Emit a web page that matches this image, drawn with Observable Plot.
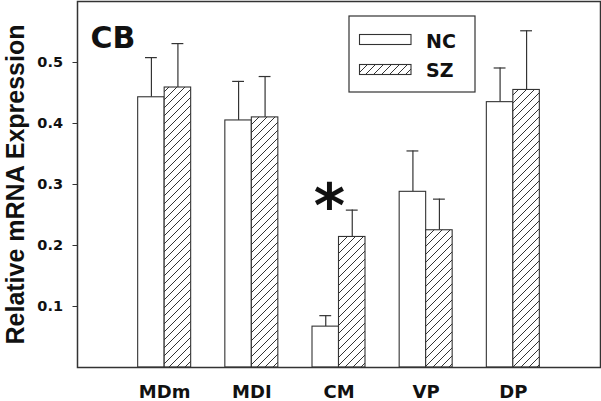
<!DOCTYPE html>
<html><head><meta charset="utf-8">
<script src="https://cdn.jsdelivr.net/npm/d3@7"></script>
<script src="https://cdn.jsdelivr.net/npm/@observablehq/plot@0.6"></script>
<style>body{margin:0;background:#fff;} #chart svg{display:block;}</style>
</head><body><div id="chart"></div>
<script>
const categories = ["MDm", "MDI", "CM", "VP", "DP"];
const groups = ["NC", "SZ"];
const ncMean  = [0.443, 0.405, 0.067, 0.288, 0.435];
const ncUpper = [0.508, 0.469, 0.085, 0.355, 0.491];
const szMean  = [0.459, 0.410, 0.214, 0.225, 0.455];
const szUpper = [0.531, 0.477, 0.258, 0.276, 0.552];
const yTicks = [0.1, 0.2, 0.3, 0.4, 0.5];
const panelLabel = "CB";
const yLabel = "Relative mRNA Expression";
const significant = ["CM"];

const barW = 0.304;   // bar width in category units
const capHalf = 0.068;
const rows = [];
categories.forEach((c, i) => {
  rows.push({cat: c, group: "NC", pos: i + 1, x1: i + 1 - barW, x2: i + 1, mean: ncMean[i], upper: ncUpper[i]});
  rows.push({cat: c, group: "SZ", pos: i + 1, x1: i + 1, x2: i + 1 + barW, mean: szMean[i], upper: szUpper[i]});
});
const nc = rows.filter(d => d.group === "NC");
const sz = rows.filter(d => d.group === "SZ");
const mid = d => (d.x1 + d.x2) / 2;
const ink = "#333";

const chart = Plot.plot({
  width: 601, height: 401,
  marginLeft: 77, marginRight: 1, marginTop: 1, marginBottom: 34,
  x: {domain: [0, 6]},
  y: {domain: [0, 0.6]},
  style: {fontFamily: "DejaVu Sans", fontWeight: "bold", color: "#111", background: "white", overflow: "visible"},
  marks: [
    Plot.ruleX(rows, {x: mid, y1: "mean", y2: "upper", stroke: ink, strokeWidth: 1.2}),
    Plot.ruleY(rows, {y: "upper", x1: d => mid(d) - capHalf, x2: d => mid(d) + capHalf, stroke: ink, strokeWidth: 1.2}),
    Plot.rectY(nc, {x1: "x1", x2: "x2", y: "mean", fill: "white", stroke: ink, strokeWidth: 1.1}),
    Plot.rectY(sz, {x1: "x1", x2: "x2", y: "mean", fill: "url(#hatch)", stroke: ink, strokeWidth: 1.1}),
    Plot.axisY({ticks: yTicks, tickFormat: d3.format(".1f"), tickSize: 4.5, tickPadding: 10, fontSize: 14.5, label: null, stroke: ink}),
    Plot.axisX({ticks: categories.map((c, i) => i + 1), tickFormat: v => categories[v - 1], tickSize: 0, tickPadding: 17.5, fontSize: 18, label: null}),
    Plot.frame({stroke: ink, strokeWidth: 1.5}),
    Plot.text([yLabel], {text: d => d, frameAnchor: "left", textAnchor: "middle", rotate: -90, dx: -54, lineAnchor: "bottom", fontFamily: "Liberation Sans", fontSize: 25, fontWeight: "bold", fill: "#111"}),
    Plot.text([panelLabel], {text: d => d, frameAnchor: "top-left", dx: 13, dy: 46, lineAnchor: "bottom", textAnchor: "start", fontSize: 30, fontWeight: "bold", fill: "#111"}),
    Plot.text(significant, {text: () => "*", x: d => categories.indexOf(d) + 1, y: d => szUpper[categories.indexOf(d)], dx: -9.5, dy: 17, lineAnchor: "bottom", fontSize: 60, fontWeight: "bold", fill: "#111"})
  ]
});

const svg = d3.select(chart);
const defs = svg.insert("defs", ":first-child");
const pat = defs.append("pattern").attr("id", "hatch").attr("patternUnits", "userSpaceOnUse").attr("width", 8).attr("height", 8);
pat.append("rect").attr("width", 8).attr("height", 8).attr("fill", "white");
pat.append("path").attr("d", "M-2,2L2,-2M0,8L8,0M6,10L10,6").attr("stroke", ink).attr("stroke-width", 1);

// legend
const lg = svg.append("g");
lg.append("rect").attr("x", 349).attr("y", 16).attr("width", 126).attr("height", 76).attr("fill", "white").attr("stroke", ink).attr("stroke-width", 1.2);
const swatchY = [34.5, 64.5], textY = [48.3, 76.7];
groups.forEach((g, i) => {
  lg.append("rect").attr("x", 359.5).attr("y", swatchY[i]).attr("width", 51.5).attr("height", 10)
    .attr("fill", g === "SZ" ? "url(#hatch)" : "white").attr("stroke", ink).attr("stroke-width", 1.1);
  lg.append("text").attr("x", 426).attr("y", textY[i]).attr("text-anchor", "start").attr("font-family", "DejaVu Sans").attr("font-weight", "bold")
    .attr("font-size", 19).attr("fill", "#111").text(g);
});

document.getElementById("chart").appendChild(chart);
</script>
</body></html>
